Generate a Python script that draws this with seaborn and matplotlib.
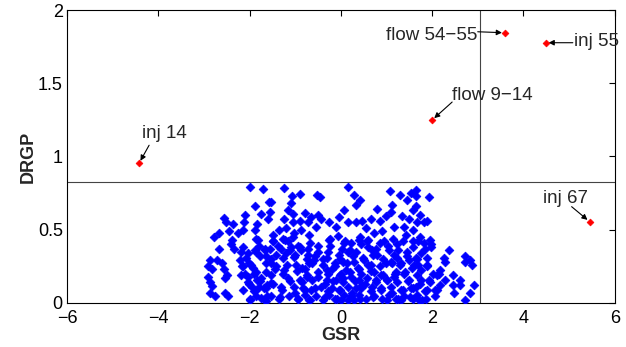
import numpy as np
import pandas as pd
import matplotlib
matplotlib.use("Agg")
import matplotlib.pyplot as plt
import seaborn as sns

# bus / branch scores
gsr = [
    -2.00, -1.70, -1.58, -1.88, -1.76, -2.09, -2.55, -2.51, -2.37, -2.12, -1.84, -1.59,
    -2.67, -2.79, -2.45, -2.25, -2.15, -1.88, -2.39, -2.41, -2.35, -2.67, -1.81, -1.79,
    -2.18, -2.04, -1.86, -1.66, -1.63, -2.72, -2.87, -2.90, -2.83, -2.61, -2.57, -2.50,
    -2.53, -2.90, -2.87, -2.21, -2.15, -2.01, -1.93, -2.18, -2.04, -1.90, -1.83, -1.75,
    -1.64, -2.01, -1.94, -1.80, -1.69, -1.62, -2.82, -2.87, -2.76, -2.54, -2.47, -2.00,
    -1.85, -1.75, -1.62, -1.64, -1.90,
    -1.25, -0.89, -1.07, -0.52, -0.45, -1.54, -1.09, -1.56, -1.15, -1.05, -0.79, -0.51,
    -0.43, -0.03, -0.25, -0.90, -0.73, -1.24, -1.35, -1.20, -0.54, -0.10, -1.49, -1.03,
    -0.88, -0.69, -0.25, -0.07, -1.27, -1.16, -1.56, -1.31, -1.09, -0.94, -0.87, -0.50,
    -0.28, -0.03, -1.42, -1.20, -1.02, -0.72, -0.58, -0.39, -0.13, -1.53, -1.45, -1.24,
    -0.98, -0.79, -0.69, -0.31, -0.20, 0.00, -1.16, -0.90, -0.75, -0.50, -0.31, -0.10,
    -1.31, -1.53, -1.02, -0.83, -0.65, -0.43, -0.20, -0.03, -1.53, -1.35, -1.13, -0.94,
    -0.79, -0.69, -0.54, -0.39, -0.25, -0.13, 0.00, -1.49, -0.65, -1.05,
    0.15, 0.29, 0.07, 0.33, 0.42, 1.08, 1.30, 1.53, 1.46, 1.13, 0.79, 0.99,
    1.09, 1.35, 1.57, 1.50, 0.15, 0.33, 0.47, 0.66, 0.86, 0.55, 0.73, 0.91,
    1.17, 1.39, 1.57, 1.42, 0.07, 0.22, 0.40, 0.44, 0.58, 0.95, 1.24, 1.06,
    1.57, 0.15, 0.33, 0.69, 0.80, 1.17, 1.46, 0.04, 0.29, 0.51, 0.66, 0.99,
    1.09, 1.31, 1.50, 1.61, 0.11, 0.40, 0.73, 0.88, 1.20, 1.39, 0.04, 0.22,
    0.40, 0.58, 0.77, 1.02, 1.17, 1.50, 0.15, 0.33, 0.47, 0.69, 0.88, 1.09,
    1.31, 1.53, 0.07, 0.22, 0.40, 0.55, 0.73, 0.91, 1.06, 1.20, 1.39, 1.57,
    0.29, 1.31,
    1.64, 1.64, 1.93, 1.64, 1.73, 1.66, 1.89, 1.82, 1.69, 1.82, 1.97, 1.97,
    1.75, 1.64, 1.89, 2.37, 2.26, 2.29, 2.73, 2.73, 2.84, 2.88, 1.68, 1.89,
    1.75, 2.18, 2.11, 2.15, 2.46, 2.29, 1.93, 1.75, 2.62, 2.62, 2.46, 2.91,
    1.64, 1.89, 2.07, 2.18, 2.47, 2.83, 1.67, 1.86, 2.07, 2.73, 1.71,
    # dense lower band
    -1.85, -1.48, -1.23, -1.04, -0.68, -0.24, 0.09, 0.42, 0.60, 0.85, 1.15, 1.37, 1.73, 1.95,
    -2.14, -1.88, -1.66, -1.37, -1.12, -0.90, -0.71, -0.50, -0.24, 0.02, 0.20, 0.60, 0.78,
    1.04, 1.26, 1.58, 1.84,
    -2.07, -1.77, -1.52, -1.26, -1.01, -0.75, -0.57, -0.31, -0.02, 0.27, 0.49, 0.71, 0.93,
    1.22, 1.44, 1.66,
    -2.17, -1.96, -1.63, -1.41, -1.19, -0.86, -0.64, -0.39, -0.13, 0.13, 0.38, 0.60, 0.85,
    1.11, 1.29, 1.55, 1.88,
    -2.10, -1.85, -1.52, -1.26, -0.97, -0.75, -0.50, -0.28, -0.02, 0.20, 0.45, 0.67, 0.93,
    1.18, 1.40, 1.66, 2.02,
    -2.03, -1.77, -1.48, -1.12, -0.86, -0.64, -0.35, -0.17, 0.05, 0.31, 0.53, 0.78, 1.00,
    1.22, 1.48, 1.73, 1.95,
    -2.14, -1.88, -1.63, -1.30, -1.01, -0.79, -0.57, -0.28, -0.02, 0.24, 0.45, 0.67, 0.89,
    1.11, 1.37, 1.58, 1.84, 2.10,
    -1.99, -1.66, -1.33, -0.93, -0.68, -0.35, -0.09, 0.16, 0.42, 0.71, 1.00, 1.26, 1.51, 1.77,
]
drgp = [
    0.79, 0.78, 0.69, 0.66, 0.61, 0.60, 0.58, 0.555, 0.54, 0.555, 0.54, 0.57,
    0.48, 0.45, 0.49, 0.475, 0.50, 0.50, 0.43, 0.40, 0.37, 0.37, 0.43, 0.39,
    0.35, 0.34, 0.35, 0.36, 0.32, 0.29, 0.29, 0.25, 0.23, 0.27, 0.23, 0.19,
    0.17, 0.18, 0.14, 0.29, 0.25, 0.27, 0.24, 0.19, 0.18, 0.20, 0.16, 0.17,
    0.21, 0.13, 0.11, 0.11, 0.10, 0.12, 0.116, 0.066, 0.045, 0.066, 0.045, 0.02,
    0.045, 0.035, 0.045, 0.01, 0.08,
    0.785, 0.745, 0.73, 0.74, 0.72, 0.69, 0.68, 0.62, 0.635, 0.61, 0.615, 0.60,
    0.57, 0.59, 0.555, 0.56, 0.55, 0.57, 0.50, 0.51, 0.52, 0.52, 0.465, 0.475,
    0.50, 0.465, 0.43, 0.455, 0.44, 0.42, 0.37, 0.37, 0.38, 0.39, 0.36, 0.39,
    0.35, 0.33, 0.33, 0.34, 0.315, 0.325, 0.29, 0.30, 0.27, 0.27, 0.235, 0.225,
    0.26, 0.235, 0.27, 0.225, 0.235, 0.20, 0.17, 0.157, 0.18, 0.18, 0.157, 0.157,
    0.11, 0.135, 0.11, 0.10, 0.09, 0.11, 0.10, 0.09, 0.045, 0.03, 0.045, 0.03,
    0.055, 0.02, 0.045, 0.02, 0.055, 0.03, 0.02, 0.42, 0.59, 0.55,
    0.79, 0.74, 0.635, 0.67, 0.70, 0.765, 0.735, 0.75, 0.70, 0.67, 0.64, 0.595,
    0.62, 0.595, 0.635, 0.57, 0.55, 0.55, 0.56, 0.57, 0.56, 0.51, 0.475, 0.49,
    0.52, 0.52, 0.50, 0.465, 0.41, 0.41, 0.43, 0.40, 0.42, 0.42, 0.40, 0.36,
    0.42, 0.35, 0.35, 0.36, 0.33, 0.33, 0.35, 0.28, 0.28, 0.29, 0.26, 0.27,
    0.28, 0.27, 0.29, 0.26, 0.225, 0.235, 0.21, 0.19, 0.21, 0.20, 0.17, 0.18,
    0.157, 0.17, 0.157, 0.157, 0.18, 0.157, 0.11, 0.10, 0.12, 0.11, 0.10, 0.11,
    0.09, 0.10, 0.055, 0.045, 0.055, 0.03, 0.045, 0.03, 0.055, 0.03, 0.045, 0.03,
    0.02, 0.02,
    0.77, 0.73, 0.72, 0.66, 0.60, 0.55, 0.56, 0.55, 0.42, 0.41, 0.40, 0.38,
    0.34, 0.31, 0.31, 0.36, 0.31, 0.28, 0.32, 0.28, 0.29, 0.26, 0.26, 0.25,
    0.225, 0.225, 0.19, 0.20, 0.19, 0.157, 0.157, 0.157, 0.157, 0.12, 0.12, 0.12,
    0.11, 0.09, 0.09, 0.12, 0.065, 0.065, 0.055, 0.03, 0.045, 0.02, 0.02,
    # dense lower band
    0.44, 0.42, 0.43, 0.45, 0.41, 0.44, 0.42, 0.45, 0.43, 0.41, 0.44, 0.42, 0.45, 0.43,
    0.38, 0.36, 0.37, 0.39, 0.36, 0.38, 0.37, 0.35, 0.39, 0.37, 0.36, 0.38, 0.37,
    0.39, 0.36, 0.38, 0.37,
    0.31, 0.32, 0.30, 0.31, 0.33, 0.30, 0.32, 0.31, 0.30, 0.32, 0.31, 0.33, 0.30,
    0.31, 0.32, 0.30,
    0.25, 0.26, 0.27, 0.25, 0.26, 0.24, 0.27, 0.26, 0.25, 0.27, 0.24, 0.26, 0.25,
    0.27, 0.26, 0.24, 0.26,
    0.20, 0.21, 0.19, 0.20, 0.22, 0.19, 0.21, 0.20, 0.19, 0.21, 0.20, 0.22, 0.19,
    0.20, 0.21, 0.19, 0.20,
    0.14, 0.15, 0.13, 0.15, 0.14, 0.16, 0.13, 0.15, 0.14, 0.15, 0.13, 0.14, 0.16,
    0.14, 0.15, 0.13, 0.14,
    0.09, 0.08, 0.10, 0.09, 0.07, 0.09, 0.10, 0.08, 0.09, 0.07, 0.10, 0.08, 0.09,
    0.07, 0.09, 0.10, 0.08, 0.09,
    0.03, 0.02, 0.04, 0.03, 0.02, 0.04, 0.03, 0.02, 0.03, 0.04, 0.02, 0.03, 0.04, 0.02,
]

# flagged outliers
out_names = ["flow 54\u221255", "inj 55", "flow 9\u221214", "inj 14", "inj 67"]
out_gsr = [3.59, 4.49, 2.00, -4.42, 5.45]
out_drgp = [1.845, 1.777, 1.249, 0.954, 0.555]

# thresholds
gsr_thr = 3.05
drgp_thr = 0.826

sns.set_style("white")
plt.rcParams["font.family"] = ["Liberation Sans", "DejaVu Sans"]

fig = plt.figure(figsize=(6.26, 3.47), dpi=100)
ax = fig.add_axes([0.107, 0.127, 0.875, 0.844])

pts = pd.DataFrame({"GSR": gsr, "DRGP": drgp})
sns.scatterplot(data=pts, x="GSR", y="DRGP", ax=ax, marker="D", s=20,
                color="#0000ff", edgecolor="#0000ff", linewidth=0.5, zorder=3)

outs = pd.DataFrame({"GSR": out_gsr, "DRGP": out_drgp, "name": out_names})
sns.scatterplot(data=outs, x="GSR", y="DRGP", ax=ax, marker="D", s=12,
                color="#ff0000", edgecolor="#ff0000", linewidth=0.5, zorder=4)

ax.axhline(drgp_thr, color="#444444", lw=0.8, zorder=2)
ax.axvline(gsr_thr, color="#444444", lw=0.8, zorder=2)

# (arrow start, text position, ha) in pixel offsets from the point
label_pos = [
    ((-27, 1), (-27, -3), "right"),
    ((27, 0), (28, 1), "left"),
    ((20, 18), (20, 25), "left"),
    ((10, 18), (3, 30), "left"),
    ((-18, 15), (-47, 23), "left"),
]
for (name, xv, yv), (arr, txt, ha) in zip(zip(out_names, out_gsr, out_drgp), label_pos):
    ax.annotate("", xy=(xv, yv), xytext=arr, textcoords="offset pixels",
                arrowprops=dict(arrowstyle="-|>", color="black", lw=0.8,
                                mutation_scale=8, shrinkA=0, shrinkB=2))
    ax.annotate(name, xy=(xv, yv), xytext=txt, textcoords="offset pixels",
                ha=ha, va="center", fontsize=13.5)

ax.set_xlim(-6, 6)
ax.set_ylim(0, 2)
ax.set_xticks([-6, -4, -2, 0, 2, 4, 6])
ax.set_yticks([0, 0.5, 1, 1.5, 2])
ax.set_xticklabels(["\u22126", "\u22124", "\u22122", "0", "2", "4", "6"])
ax.set_yticklabels(["0", "0.5", "1", "1.5", "2"])
ax.tick_params(direction="in", length=4, width=0.8, top=True, right=True,
               labelsize=13, pad=3, colors="black")
ax.tick_params(axis="x", pad=5)
ax.set_xlabel("GSR", fontsize=13, fontweight="bold", labelpad=0)
ax.set_ylabel("DRGP", fontsize=13, fontweight="bold", labelpad=1)
for sp in ax.spines.values():
    sp.set_color("black")
    sp.set_linewidth(0.8)

fig.savefig("out.png", dpi=100)
